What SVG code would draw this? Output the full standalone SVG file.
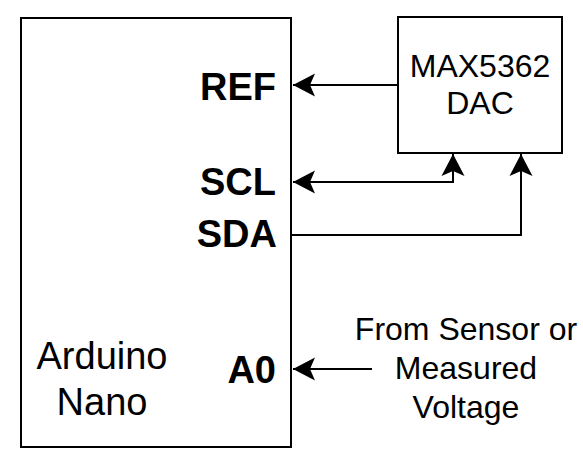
<svg xmlns="http://www.w3.org/2000/svg" width="583" height="460" viewBox="0 0 583 460">
<style>
.box{fill:#fff;stroke:#000;stroke-width:2}
.pin{font-family:"Liberation Sans",Arial,sans-serif;font-weight:bold;font-size:38px;fill:#000;text-anchor:end}
.lbl{font-family:"Liberation Sans",Arial,sans-serif;font-size:32px;fill:#000;text-anchor:middle}
.big{font-size:38px}
.wire{fill:none;stroke:#000;stroke-width:2}
</style>
<defs>
<marker id="arr" markerUnits="userSpaceOnUse" markerWidth="23" markerHeight="24" viewBox="0 0 23 24" refX="22" refY="12" orient="auto-start-reverse">
<path d="M22,12 L0,0.5 L5,12 L0,23.5 Z" fill="#000"/>
</marker>
</defs>
<rect width="583" height="460" fill="#fff"/>
<g id="arduino">
<rect class="box" x="21" y="18" width="270" height="429"/>
<text class="pin" x="276" y="100">REF</text>
<text class="pin" x="276" y="195">SCL</text>
<text class="pin" x="277" y="247">SDA</text>
<text class="pin" x="276" y="383">A0</text>
<text class="lbl big" x="102" y="369">Arduino</text>
<text class="lbl big" x="102" y="415">Nano</text>
</g>
<g id="dac">
<rect class="box" x="398" y="17" width="164" height="136"/>
<text class="lbl" x="480" y="77">MAX5362</text>
<text class="lbl" x="480" y="114">DAC</text>
</g>
<g id="sensor">
<text class="lbl" x="466" y="340">From Sensor or</text>
<text class="lbl" x="466" y="379">Measured</text>
<text class="lbl" x="466" y="418">Voltage</text>
</g>
<g id="connectors">
<path class="wire" d="M398,85 L293,85" marker-end="url(#arr)"/>
<path class="wire" d="M293,182 L453,182 L453,154" marker-start="url(#arr)" marker-end="url(#arr)"/>
<path class="wire" d="M292,235 L521,235 L521,154" marker-end="url(#arr)"/>
<path class="wire" d="M372,369 L293,369" marker-end="url(#arr)"/>
</g>
</svg>
